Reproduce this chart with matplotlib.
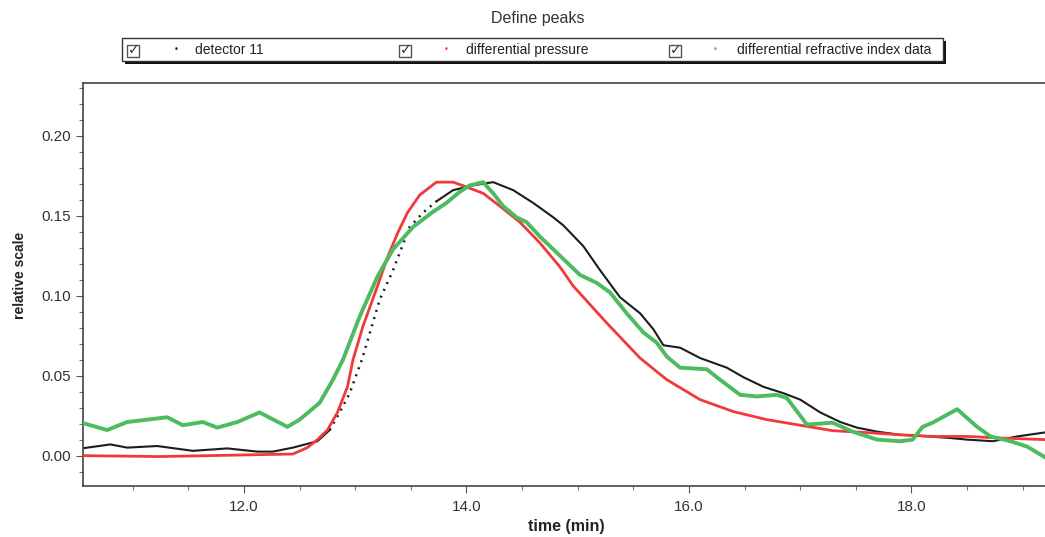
import matplotlib
matplotlib.use("Agg")
import matplotlib.pyplot as plt
from matplotlib.patches import Rectangle
from matplotlib.ticker import MultipleLocator, FormatStrFormatter

plt.rcParams['font.family'] = ['Liberation Sans', 'DejaVu Sans']

# detector 11 (black)
det_t = [10.54, 10.80, 10.95, 11.22, 11.54, 11.85, 12.12, 12.26, 12.44, 12.66,
         12.77, 12.86, 12.95, 13.06, 13.22, 13.34, 13.49, 13.61, 13.73, 13.88,
         14.06, 14.24, 14.42, 14.60, 14.78, 14.87, 15.05, 15.20, 15.38, 15.56,
         15.68, 15.77, 15.92, 16.10, 16.34, 16.49, 16.67, 16.85, 17.00, 17.18,
         17.36, 17.51, 17.69, 17.90, 18.05, 18.35, 18.50, 18.73, 18.95, 19.20]
det_v = [0.0045, 0.007, 0.005, 0.006, 0.003, 0.0045, 0.0025, 0.0025, 0.005, 0.009,
         0.016, 0.027, 0.039, 0.060, 0.0975, 0.116, 0.143, 0.152, 0.159, 0.166,
         0.169, 0.171, 0.166, 0.158, 0.149, 0.144, 0.131, 0.116, 0.099, 0.089,
         0.079, 0.069, 0.0675, 0.061, 0.055, 0.049, 0.043, 0.039, 0.035, 0.027,
         0.021, 0.0175, 0.015, 0.013, 0.0125, 0.011, 0.010, 0.009, 0.012, 0.0145]

# differential pressure (red)
dp_t = [10.54, 11.24, 12.14, 12.44, 12.57, 12.66, 12.75, 12.84, 12.93, 12.98,
        13.07, 13.20, 13.29, 13.38, 13.47, 13.58, 13.73, 13.88, 14.00, 14.15,
        14.30, 14.48, 14.66, 14.84, 14.96, 15.26, 15.56, 15.80, 16.10, 16.40,
        16.70, 17.00, 17.29, 17.60, 17.90, 18.19, 18.50, 18.80, 19.20]
dp_v = [0.0, -0.0006, 0.0006, 0.001, 0.005, 0.010, 0.016, 0.027, 0.043, 0.060,
        0.081, 0.106, 0.124, 0.139, 0.152, 0.163, 0.171, 0.171, 0.168, 0.164,
        0.156, 0.146, 0.133, 0.118, 0.106, 0.083, 0.061, 0.0475, 0.035, 0.0275,
        0.0225, 0.019, 0.0156, 0.0144, 0.013, 0.012, 0.012, 0.011, 0.010]

# differential refractive index data (green)
ri_t = [10.54, 10.77, 10.95, 11.31, 11.45, 11.63, 11.76, 11.94, 12.14, 12.39,
        12.50, 12.68, 12.80, 12.89, 13.04, 13.20, 13.34, 13.52, 13.70, 13.82,
        13.94, 14.03, 14.15, 14.24, 14.33, 14.45, 14.54, 14.66, 14.81, 15.02,
        15.17, 15.29, 15.44, 15.59, 15.71, 15.80, 15.92, 16.16, 16.25, 16.46,
        16.61, 16.79, 16.88, 17.06, 17.29, 17.47, 17.69, 17.90, 18.01, 18.10,
        18.19, 18.41, 18.59, 18.71, 18.89, 19.04, 19.20]
ri_v = [0.0206, 0.016, 0.021, 0.024, 0.019, 0.021, 0.0175, 0.021, 0.027, 0.018,
        0.0225, 0.033, 0.0475, 0.060, 0.087, 0.112, 0.129, 0.143, 0.1525, 0.158,
        0.165, 0.169, 0.171, 0.164, 0.156, 0.149, 0.146, 0.137, 0.127, 0.113,
        0.108, 0.102, 0.089, 0.077, 0.0706, 0.062, 0.055, 0.054, 0.049, 0.038,
        0.037, 0.038, 0.036, 0.0194, 0.0206, 0.015, 0.010, 0.009, 0.010, 0.018,
        0.0206, 0.029, 0.018, 0.012, 0.009, 0.0056, -0.001]

series_names = ["detector 11", "differential pressure", "differential refractive index data"]
colors = ["#1c1c1c", "#f03a3a", "#4dbb5f"]

W, H = 1045, 537
fig = plt.figure(figsize=(W / 100, H / 100), dpi=100)
ax = fig.add_axes([83 / W, 1 - 486 / H, (W - 83) / W, (486 - 83) / H])

# black trace: sparse (dotted look) on the steep rise
i0, i1 = 10, 18
ax.plot(det_t[:i0 + 1], det_v[:i0 + 1], color=colors[0], lw=1.5, zorder=2)
ax.plot(det_t[i0:i1 + 1], det_v[i0:i1 + 1], color=colors[0], lw=1.8,
        ls=(0, (0.8, 2.2)), zorder=2)
ax.plot(det_t[i1:], det_v[i1:], color=colors[0], lw=1.5, zorder=2)
ax.plot(dp_t, dp_v, color=colors[1], lw=2.0, zorder=3)
ax.plot(ri_t, ri_v, color=colors[2], lw=2.8, zorder=4)

ax.set_xlim(10.553, 19.2)
ax.set_ylim(-0.019, 0.233)
ax.xaxis.set_major_locator(MultipleLocator(2.0))
ax.xaxis.set_minor_locator(MultipleLocator(0.5))
ax.yaxis.set_major_locator(MultipleLocator(0.05))
ax.yaxis.set_minor_locator(MultipleLocator(0.01))
ax.xaxis.set_major_formatter(FormatStrFormatter('%.1f'))
ax.yaxis.set_major_formatter(FormatStrFormatter('%.2f'))
ax.tick_params(which='major', length=5, width=0.8, color='#555555',
               labelsize=11, labelcolor='#333333', direction='out')
ax.tick_params(which='minor', length=3, width=0.8, color='#777777', direction='out')
ax.tick_params(axis='x', pad=5)
for s in ['left', 'bottom', 'top']:
    ax.spines[s].set_color('#444444')
    ax.spines[s].set_linewidth(1.2)
ax.spines['right'].set_visible(False)

fig.text(20 / W, 1 - 275 / H, "relative scale", rotation=90, ha='center',
         va='center', fontsize=10, fontweight='bold', color='#222222')
fig.text(566 / W, 1 - 527 / H, "time (min)", ha='center', va='center',
         fontsize=11.5, fontweight='bold', color='#222222')
fig.text(538 / W, 1 - 19 / H, "Define peaks", ha='center', va='center',
         fontsize=11.5, color='#333333')

# legend box with shadow
lx0, ly0, lx1, ly1 = 122, 38, 943, 61
fig.patches.append(Rectangle(((lx0 + 3) / W, 1 - (ly1 + 3) / H), (lx1 - lx0) / W,
                             (ly1 - ly0) / H, transform=fig.transFigure,
                             facecolor='#111111', edgecolor='none', zorder=1))
fig.patches.append(Rectangle((lx0 / W, 1 - ly1 / H), (lx1 - lx0) / W,
                             (ly1 - ly0) / H, transform=fig.transFigure,
                             facecolor='white', edgecolor='#333333', lw=1.0, zorder=2))
box_x = [127, 399, 669]
dot_x = [176, 446, 715]
lab_x = [195, 466, 737]
yc = 1 - 50 / H
for bx, dx, lx, name, c in zip(box_x, dot_x, lab_x, series_names, colors):
    fig.patches.append(Rectangle((bx / W, 1 - 57 / H), 12 / W, 12 / H,
                                 transform=fig.transFigure, facecolor='white',
                                 edgecolor='#555555', lw=1.0, zorder=3))
    fig.text((bx + 6.5) / W, 1 - 50 / H, "\u2713", ha='center', va='center',
             fontsize=10, fontweight='bold', color='#333333',
             family=['DejaVu Sans'], zorder=4)
    fig.text(dx / W, yc, "\u2022", ha='center', va='center', fontsize=6,
             color=c, family=['DejaVu Sans'])
    fig.text(lx / W, yc, name, ha='left', va='center', fontsize=10,
             color='#222222')

fig.savefig("out.png", dpi=100)
